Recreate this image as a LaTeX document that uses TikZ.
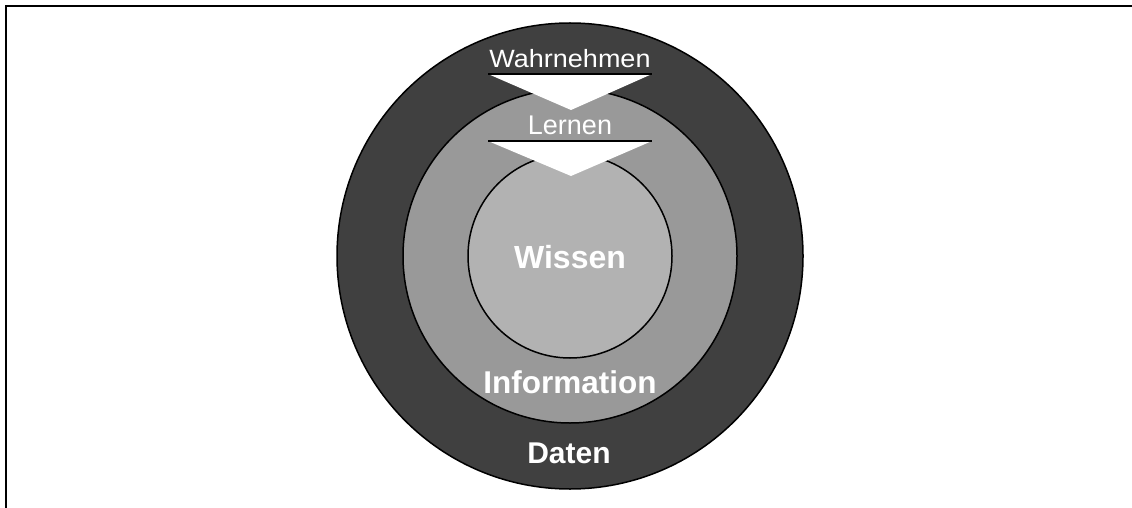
\documentclass[tikz,border=0pt]{standalone}
\usepackage{fontspec}
\setmainfont{Liberation Sans}
\definecolor{ringouter}{HTML}{404040}
\definecolor{ringmiddle}{HTML}{999999}
\definecolor{ringinner}{HTML}{B2B2B2}
\tikzset{
  ring/.style={circle, draw=black, line width=1.5pt, inner sep=0pt},
  stage/.style={text=white, anchor=base, inner sep=0pt},
  level/.style={text=white, anchor=base, inner sep=0pt, font=\bfseries},
  chevron/.style={fill=white, draw=none},
  chevronedge/.style={line width=2pt, black}
}
\begin{document}
\begin{tikzpicture}[x=1pt,y=-1pt]
\useasboundingbox (0,0) rectangle (1132,508);
% frame (top and left edges)
\draw[line width=2pt] (6,508) -- (6,6) -- (1132,6);
% concentric rings
\node[ring, fill=ringouter, minimum size=466pt] (daten) at (570,256) {};
\node[ring, fill=ringmiddle, minimum size=334pt] (information) at (570,256) {};
\node[ring, fill=ringinner, minimum size=204pt] (wissen) at (570,256) {};
% chevrons between the rings
\coordinate (wl) at (488,74);
\coordinate (wr) at (652,74);
\coordinate (wt) at (571,110);
\fill[chevron] (wl) -- (wr) -- (wt) -- cycle;
\draw[chevronedge] (wl) -- (wr);
\coordinate (ll) at (488,141);
\coordinate (lr) at (652,141);
\coordinate (lt) at (571,176);
\fill[chevron] (ll) -- (lr) -- (lt) -- cycle;
\draw[chevronedge] (ll) -- (lr);
% labels
\node[stage, font=\fontsize{25}{30}\selectfont] (wahrnehmen) at (570,68) {\scalebox{1.08}[1]{Wahrnehmen}};
\node[stage, font=\fontsize{27}{32}\selectfont] (lernen) at (570,135) {Lernen};
\node[level, font=\fontsize{32}{38}\selectfont\bfseries] (wissenlbl) at (570,268) {Wissen};
\node[level, font=\fontsize{31.5}{38}\selectfont\bfseries] (infolbl) at (570,393) {Information};
\node[level, font=\fontsize{30}{36}\selectfont\bfseries] (datenlbl) at (569,463) {Daten};
\end{tikzpicture}
\end{document}
